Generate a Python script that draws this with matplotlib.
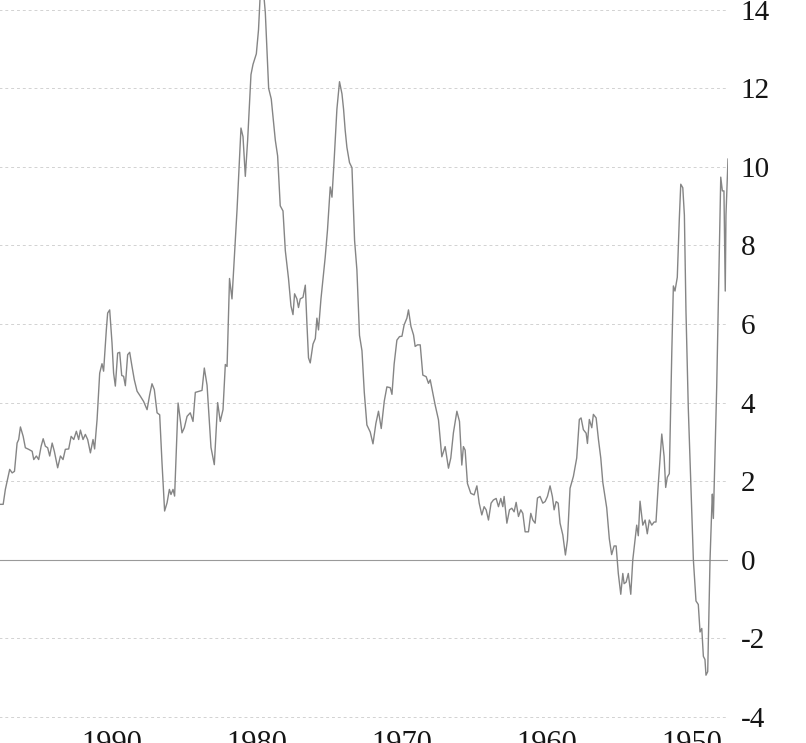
import matplotlib
matplotlib.use("Agg")
import matplotlib.pyplot as plt
import numpy as np

# year-over-year inflation, % (newest on the left)
years = [
    1998.21, 1998.02, 1997.87, 1997.57, 1997.40, 1997.24, 1997.06, 1996.95, 1996.83, 1996.64,
    1996.49, 1996.26, 1996.02, 1995.91, 1995.73, 1995.57, 1995.40, 1995.26, 1995.11, 1994.95,
    1994.81, 1994.64, 1994.49, 1994.26, 1994.07, 1993.89, 1993.73, 1993.50, 1993.33, 1993.15,
    1992.97, 1992.81, 1992.69, 1992.51, 1992.35, 1992.19, 1992.00, 1991.82, 1991.71, 1991.54,
    1991.36, 1991.20, 1991.09, 1990.90, 1990.81, 1990.67, 1990.51, 1990.40, 1990.28, 1990.12,
    1989.98, 1989.84, 1989.71, 1989.59, 1989.43, 1989.29, 1989.13, 1988.97, 1988.78, 1988.55,
    1988.33, 1988.09, 1987.91, 1987.75, 1987.59, 1987.40, 1987.22, 1987.06, 1986.88, 1986.71,
    1986.55, 1986.44, 1986.30, 1986.19, 1985.95, 1985.68, 1985.52, 1985.33, 1985.11, 1984.92,
    1984.76, 1984.30, 1984.14, 1983.95, 1983.68, 1983.45, 1983.22, 1983.04, 1982.85, 1982.69,
    1982.57, 1982.40, 1982.23, 1982.07, 1981.88, 1981.61, 1981.47, 1981.31, 1981.15, 1980.92,
    1980.78, 1980.55, 1980.40, 1980.28, 1980.14, 1980.04, 1979.93, 1979.70, 1979.52, 1979.24,
    1979.08, 1978.90, 1978.71, 1978.55, 1978.33, 1978.16, 1978.02, 1977.91, 1977.75, 1977.64,
    1977.52, 1977.33, 1977.17, 1977.06, 1976.95, 1976.83, 1976.64, 1976.48, 1976.37, 1976.26,
    1976.09, 1975.80, 1975.64, 1975.45, 1975.33, 1975.17, 1974.99, 1974.81, 1974.64, 1974.53,
    1974.42, 1974.30, 1974.12, 1973.95, 1973.77, 1973.61, 1973.43, 1973.26, 1973.10, 1972.92,
    1972.69, 1972.50, 1972.30, 1972.12, 1971.93, 1971.72, 1971.54, 1971.31, 1971.19, 1971.04,
    1970.85, 1970.67, 1970.50, 1970.35, 1970.16, 1970.05, 1969.88, 1969.70, 1969.59, 1969.43,
    1969.24, 1969.06, 1968.83, 1968.67, 1968.55, 1968.37, 1968.21, 1967.98, 1967.75, 1967.52,
    1967.29, 1967.13, 1966.95, 1966.71, 1966.53, 1966.37, 1966.26, 1966.14, 1965.98, 1965.75,
    1965.52, 1965.33, 1965.17, 1964.99, 1964.83, 1964.69, 1964.53, 1964.35, 1964.19, 1964.00,
    1963.84, 1963.68, 1963.54, 1963.45, 1963.26, 1963.08, 1962.92, 1962.76, 1962.62, 1962.46,
    1962.30, 1962.16, 1962.00, 1961.77, 1961.61, 1961.47, 1961.31, 1961.15, 1960.97, 1960.78,
    1960.62, 1960.46, 1960.28, 1960.12, 1960.00, 1959.86, 1959.72, 1959.59, 1959.40, 1959.22,
    1959.08, 1958.90, 1958.67, 1958.44, 1958.26, 1958.14, 1957.98, 1957.79, 1957.70, 1957.57,
    1957.40, 1957.29, 1957.10, 1956.94, 1956.78, 1956.64, 1956.37, 1956.19, 1956.03, 1955.86,
    1955.72, 1955.57, 1955.40, 1955.26, 1955.17, 1955.03, 1954.88, 1954.71, 1954.57, 1954.41,
    1954.30, 1954.19, 1954.07, 1953.88, 1953.72, 1953.57, 1953.43, 1953.26, 1953.10, 1952.97,
    1952.81, 1952.57, 1952.41, 1952.30, 1952.19, 1952.05, 1951.88, 1951.77, 1951.66, 1951.50,
    1951.36, 1951.26, 1951.12, 1951.01, 1950.90, 1950.74, 1950.55, 1950.39, 1950.21, 1950.05,
    1949.93, 1949.81, 1949.70, 1949.59, 1949.52, 1949.40, 1949.24, 1949.12, 1949.08, 1949.01,
    1948.90, 1948.78, 1948.60, 1948.50, 1948.39, 1948.28, 1948.19, 1948.14, 1948.00,
]
inflation = [
    1.41, 1.41, 1.79, 2.30, 2.21, 2.25, 2.97, 3.06, 3.38, 3.14,
    2.85, 2.81, 2.76, 2.55, 2.64, 2.55, 2.89, 3.08, 2.89, 2.85,
    2.64, 2.97, 2.76, 2.34, 2.64, 2.55, 2.81, 2.82, 3.14, 3.06,
    3.27, 3.06, 3.30, 3.06, 3.19, 3.06, 2.72, 3.06, 2.82, 3.57,
    4.75, 4.99, 4.80, 5.86, 6.28, 6.36, 5.52, 4.75, 4.42, 5.26,
    5.28, 4.69, 4.67, 4.43, 5.22, 5.28, 4.92, 4.58, 4.29, 4.16,
    4.03, 3.82, 4.20, 4.48, 4.33, 3.74, 3.69, 2.47, 1.24, 1.45,
    1.79, 1.66, 1.79, 1.62, 3.99, 3.23, 3.36, 3.65, 3.74, 3.52,
    4.26, 4.31, 4.88, 4.44, 2.86, 2.42, 4.00, 3.52, 3.82, 4.97,
    4.92, 7.16, 6.64, 7.69, 8.92, 10.99, 10.77, 9.76, 10.68, 12.35,
    12.61, 12.88, 13.49, 14.40, 14.80, 14.40, 13.93, 12.00, 11.73, 10.68,
    10.28, 9.01, 8.88, 7.87, 7.16, 6.46, 6.24, 6.77, 6.64, 6.42,
    6.64, 6.68, 6.99, 6.02, 5.14, 5.01, 5.49, 5.63, 6.15, 5.85,
    6.64, 7.69, 8.39, 9.49, 9.23, 10.24, 11.47, 12.17, 11.86, 11.47,
    10.94, 10.50, 10.11, 9.98, 8.13, 7.38, 5.71, 5.32, 4.26, 3.43,
    3.25, 2.95, 3.47, 3.78, 3.34, 4.04, 4.40, 4.38, 4.21, 4.98,
    5.59, 5.68, 5.69, 5.98, 6.15, 6.36, 5.94, 5.72, 5.43, 5.47,
    5.47, 4.70, 4.66, 4.49, 4.58, 4.24, 3.94, 3.56, 2.62, 2.88,
    2.33, 2.59, 3.23, 3.78, 3.52, 2.41, 2.88, 2.79, 1.94, 1.69,
    1.65, 1.88, 1.44, 1.14, 1.35, 1.27, 1.01, 1.44, 1.52, 1.56,
    1.35, 1.56, 1.35, 1.61, 0.93, 1.27, 1.31, 1.22, 1.46, 1.10,
    1.27, 1.18, 0.71, 0.71, 1.18, 1.01, 0.93, 1.57, 1.61, 1.44,
    1.48, 1.61, 1.88, 1.61, 1.27, 1.48, 1.44, 0.93, 0.63, 0.12,
    0.50, 1.82, 2.12, 2.59, 3.57, 3.61, 3.31, 3.22, 2.96, 3.57,
    3.36, 3.70, 3.61, 3.06, 2.59, 1.97, 1.32, 0.53, 0.13, 0.35,
    0.35, -0.35, -0.88, -0.35, -0.61, -0.57, -0.35, -0.88, 0.00, 0.53,
    0.88, 0.61, 1.49, 0.88, 1.01, 0.66, 1.01, 0.88, 0.96, 0.96,
    1.93, 3.20, 2.63, 1.84, 2.10, 2.19, 5.26, 6.97, 6.84, 7.19,
    8.68, 9.56, 9.47, 8.77, 6.32, 3.86, 1.75, 0.00, -1.05, -1.14,
    -1.84, -1.75, -2.46, -2.54, -2.94, -2.85, 0.00, 1.32, 1.67, 1.05,
    2.63, 4.39, 7.89, 9.74, 9.39, 9.39, 6.84, 8.77, 10.20,
]

decades = [1950, 1960, 1970, 1980, 1990, 2000]
yticks = [-4, -2, 0, 2, 4, 6, 8, 10, 12, 14]

plt.rcParams['font.family'] = ['Liberation Serif', 'DejaVu Serif']
plt.rcParams['axes.unicode_minus'] = False

W, H = 806, 743
fig = plt.figure(figsize=(W / 100, H / 100), dpi=100, facecolor='white')
# axes run off the left and top edges, like the cropped original
ax = fig.add_axes([-40 / W, 25 / H, 768 / W, 718 / H])

ax.plot(years, inflation, color='#858585', lw=1.0, solid_joinstyle='round', zorder=3)

for v in yticks:
    if v == 0:
        ax.axhline(v, color='#9a9a9a', lw=0.8, zorder=2)
    else:
        ax.axhline(v, color='#d2d2d2', lw=0.7, ls=(0, (3, 3)), zorder=1)

ax.set_xlim(2001.0, 1948.0)
ax.set_ylim(-4.03, 14.25)

ax.set_xticks([d + 0.5 for d in decades])
ax.set_xticklabels([str(d) for d in decades])
ax.set_yticks(yticks)
ax.set_yticklabels([str(v) for v in yticks])

ax.yaxis.tick_right()
ax.tick_params(axis='y', length=0, pad=9, labelsize=21, labelcolor='#151515')
ax.tick_params(axis='x', length=0, pad=9, labelsize=22, labelcolor='#151515')

for s in ax.spines.values():
    s.set_visible(False)

fig.savefig('out.png', dpi=100, facecolor='white')
